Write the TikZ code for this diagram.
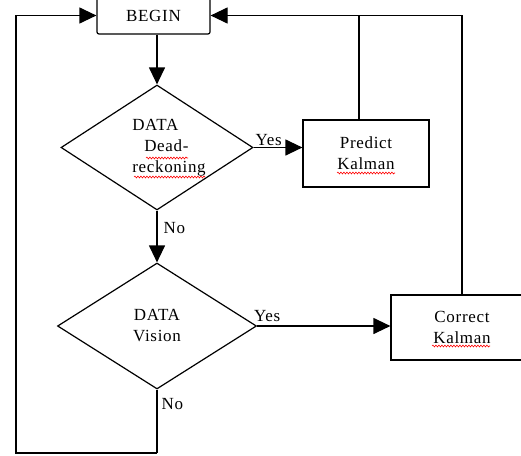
\documentclass[tikz,border=0pt]{standalone}
\usepackage{fontspec}
\setmainfont{Liberation Serif}[LetterSpace=4]
\usetikzlibrary{shapes.geometric,arrows.meta,decorations.pathmorphing}

\begin{document}
\begin{tikzpicture}[x=1pt,y=-1pt,line width=1.2pt,
  every node/.style={font=\fontsize{17}{21}\selectfont},
  startbox/.style={draw,rounded corners=2pt,minimum width=113pt,minimum height=37pt,inner sep=0pt},
  procbox/.style={draw,align=center,inner sep=0pt},
  decision/.style={draw,diamond,aspect=1.55,align=center,inner sep=0pt},
  flow/.style={-{Triangle[length=17pt,width=16pt]}},
  lbl/.style={inner sep=1pt},
  squiggle/.style={red,line width=0.6pt,decorate,decoration={snake,amplitude=0.9pt,segment length=3pt}}]
			\useasboundingbox (0,0) rectangle (521,455);
			% boxes
			\node[startbox] (begin) at (153.5,15.5) {BEGIN};
			\node[decision,minimum width=192pt,minimum height=125pt,align=left] (deadreck) at (157,147.5)
			  {\hspace*{24pt}DATA\\\hspace*{36pt}Dead-\\\hspace*{24pt}reckoning};
			\node[procbox,minimum width=126pt,minimum height=67pt] (predict) at (366,153.5) {Predict\\Kalman};
			\node[decision,minimum width=199pt,minimum height=126pt] (vision) at (157,326) {DATA\\Vision};
			\node[procbox,minimum width=142pt,minimum height=65pt] (correct) at (462,327.5) {Correct\\Kalman};
			\coordinate (join) at (359,15.5);
			\coordinate (loopbot) at (16,453);
			% arrows
			\draw[flow] (begin.south -| deadreck.north) -- (deadreck.north);
			\draw[flow] (deadreck.east) -- node[lbl,above,pos=0.31] (yes1) {Yes} (deadreck.east -| predict.west);
			\draw[flow] (deadreck.south) -- node[lbl,right,pos=0.33,inner sep=6pt] (no1) {No} (vision.north);
			\draw[flow] (vision.east) -- node[lbl,above,pos=0.075,inner sep=4pt] (yes2) {Yes} (vision.east -| correct.west);
			\draw (vision.south) -- node[lbl,right,pos=0.22,inner sep=4pt] (no2) {No} (vision.south |- loopbot);
			\draw[flow] (vision.south |- loopbot) -- (loopbot) |- (begin.west);
			\draw[flow] (correct.north) |- (begin.east);
			\draw (predict.north -| join) -- (join);
			% spelling marks
			\draw[squiggle] (146,158) -- (188,158);
			\draw[squiggle] (134,177) -- (205,177);
			\draw[squiggle] (337,173) -- (395,173);
			\draw[squiggle] (432,346) -- (490,346);
		\end{tikzpicture}
\end{document}
